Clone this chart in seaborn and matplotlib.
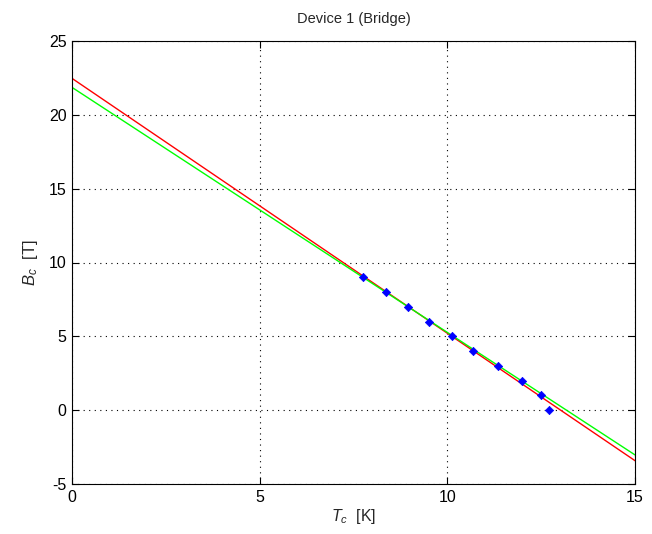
import matplotlib
matplotlib.use("Agg")
import matplotlib.pyplot as plt
import seaborn as sns
import pandas as pd

# data
tc = [7.76, 8.36, 8.94, 9.52, 10.12, 10.69, 11.36, 11.98, 12.49, 12.70]
bc = [9, 8, 7, 6, 5, 4, 3, 2, 1, 0]
red_x = [0, 15]
red_y = [22.47, -3.42]
green_x = [0, 15]
green_y = [21.86, -3.03]
xticks = [0, 5, 10, 15]
yticks = [-5, 0, 5, 10, 15, 20, 25]

sns.set_style("white")
plt.rcParams['font.family'] = ['Liberation Sans', 'DejaVu Sans']
plt.rcParams['mathtext.fontset'] = 'custom'
plt.rcParams['mathtext.rm'] = 'Liberation Sans'
plt.rcParams['mathtext.it'] = 'Liberation Sans:italic'
plt.rcParams['axes.unicode_minus'] = False

fig = plt.figure(figsize=(6.52, 5.34), dpi=100)
ax = fig.add_axes([72/652, 1-484/534, (635-72)/652, (484-41)/534])

sns.lineplot(x=red_x, y=red_y, color='red', linewidth=1.0, ax=ax)
sns.lineplot(x=green_x, y=green_y, color='#00ff00', linewidth=1.0, ax=ax)
df = pd.DataFrame({'Tc': tc, 'Bc': bc})
sns.scatterplot(data=df, x='Tc', y='Bc', marker='D', color='blue', s=18,
                edgecolor='blue', linewidth=0.5, ax=ax, zorder=5)

ax.set_xlim(0, 15)
ax.set_ylim(-5, 25)
ax.set_xticks(xticks)
ax.set_yticks(yticks)
ax.grid(True, linestyle=(0, (1, 4)), color='black', linewidth=0.8)
ax.tick_params(direction='in', length=5, labelsize=11.5, colors='black',
               top=True, right=True, bottom=True, left=True, pad=4)
for s in ax.spines.values():
    s.set_color('black')
    s.set_linewidth(0.8)
ax.set_xlabel('$T_c$  [K]', fontsize=11.5, labelpad=2)
ax.set_ylabel('$B_c$  [T]', fontsize=12, labelpad=6)
ax.set_title('Device 1 (Bridge)', fontsize=10.5, pad=13)

fig.savefig('out.png', dpi=100)
